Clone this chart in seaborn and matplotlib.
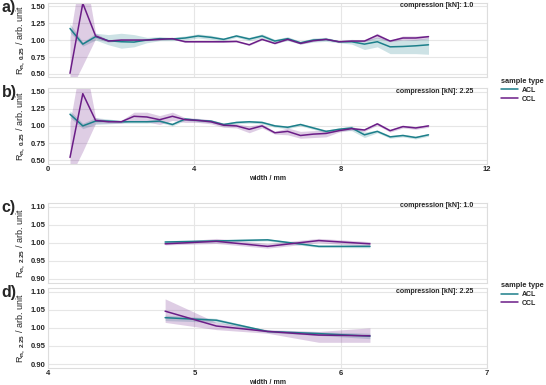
import numpy as np
import pandas as pd
import matplotlib.pyplot as plt
import seaborn as sns

# widths (mm)
width_top = [0.6, 0.95, 1.3, 1.65, 2.0, 2.35, 2.7, 3.05, 3.4, 3.75, 4.1, 4.45, 4.8, 5.15, 5.5,
             5.85, 6.2, 6.55, 6.9, 7.25, 7.6, 7.95, 8.3, 8.65, 9.0, 9.35, 9.7, 10.05, 10.4]
width_bot = [4.8, 5.15, 5.5, 5.85, 6.2]

# a) compression 1.0 (top)
acl_a = [1.17, 0.94, 1.05, 0.99, 0.975, 0.97, 1.0, 1.02, 1.015, 1.03, 1.06, 1.04, 1.01, 1.06, 1.015,
         1.06, 0.985, 1.02, 0.96, 1.0, 1.01, 0.975, 0.975, 0.94, 0.975, 0.90, 0.905, 0.915, 0.93]
acl_a_lo = [1.11, 0.91, 1.0, 0.93, 0.88, 0.9, 0.96, 0.99, 0.99, 1.0, 1.03, 1.01, 0.99, 1.04, 0.99,
            1.03, 0.96, 0.99, 0.94, 0.97, 0.98, 0.96, 0.94, 0.86, 0.9, 0.8, 0.8, 0.8, 0.79]
acl_a_hi = [1.24, 0.97, 1.1, 1.08, 1.1, 1.08, 1.04, 1.05, 1.04, 1.06, 1.09, 1.07, 1.03, 1.08, 1.04,
            1.09, 1.01, 1.05, 0.98, 1.03, 1.04, 0.99, 1.01, 1.0, 1.04, 1.0, 1.0, 1.01, 1.03]
ccl_a = [0.51, 1.54, 1.06, 0.985, 1.0, 1.0, 1.0, 1.01, 1.02, 0.975, 0.975, 0.975, 0.975, 0.98, 0.93,
         1.01, 0.95, 1.01, 0.95, 0.99, 1.01, 0.975, 0.985, 0.985, 1.07, 0.985, 1.03, 1.03, 1.05]
ccl_a_lo = [0.25, 0.63, 1.02, 0.97, 0.99, 0.99, 0.99, 1.0, 1.01, 0.965, 0.965, 0.965, 0.965, 0.97, 0.92,
            1.0, 0.94, 1.0, 0.94, 0.98, 1.0, 0.965, 0.975, 0.975, 1.03, 0.975, 1.0, 1.0, 1.02]
ccl_a_hi = [1.05, 2.2, 1.1, 1.0, 1.01, 1.01, 1.01, 1.02, 1.03, 0.985, 0.985, 0.985, 0.985, 0.99, 0.94,
            1.02, 0.96, 1.02, 0.96, 1.0, 1.02, 0.985, 0.995, 0.995, 1.1, 0.995, 1.06, 1.06, 1.07]

# b) compression 2.25 (top)
acl_b = [1.17, 1.0, 1.07, 1.07, 1.06, 1.06, 1.06, 1.07, 1.02, 1.10, 1.08, 1.07, 1.02, 1.05, 1.06,
         1.05, 1.0, 0.98, 1.02, 0.97, 0.92, 0.95, 0.97, 0.87, 0.92, 0.84, 0.86, 0.83, 0.87]
acl_b_lo = [1.12, 0.96, 1.02, 1.03, 1.04, 1.04, 1.04, 1.05, 1.0, 1.08, 1.06, 1.05, 1.0, 1.03, 1.04,
            1.03, 0.98, 0.96, 1.0, 0.95, 0.9, 0.93, 0.93, 0.83, 0.9, 0.82, 0.84, 0.81, 0.85]
acl_b_hi = [1.22, 1.04, 1.12, 1.1, 1.08, 1.08, 1.08, 1.09, 1.04, 1.12, 1.1, 1.09, 1.04, 1.07, 1.08,
            1.07, 1.02, 1.0, 1.04, 0.99, 0.94, 0.97, 1.0, 0.91, 0.94, 0.86, 0.88, 0.85, 0.89]
ccl_b = [0.54, 1.47, 1.08, 1.06, 1.06, 1.14, 1.13, 1.09, 1.14, 1.09, 1.08, 1.06, 1.01, 1.0, 0.95,
         1.0, 0.90, 0.92, 0.86, 0.88, 0.89, 0.93, 0.96, 0.94, 1.03, 0.93, 0.99, 0.97, 1.0]
ccl_b_lo = [0.25, 0.63, 1.04, 1.04, 1.04, 1.08, 1.06, 1.02, 1.08, 1.05, 1.05, 1.03, 0.98, 0.97, 0.9,
            0.97, 0.88, 0.87, 0.82, 0.83, 0.84, 0.91, 0.94, 0.92, 1.01, 0.91, 0.97, 0.95, 0.98]
ccl_b_hi = [1.05, 2.1, 1.12, 1.08, 1.08, 1.2, 1.2, 1.15, 1.2, 1.12, 1.11, 1.09, 1.04, 1.03, 1.0,
            1.03, 0.92, 0.97, 0.92, 0.93, 0.94, 0.95, 0.98, 0.96, 1.05, 0.95, 1.01, 0.99, 1.02]

# c) compression 1.0 (bottom)
acl_c = [1.002, 1.005, 1.008, 0.99, 0.99]
acl_c_lo = [0.998, 1.002, 1.005, 0.987, 0.986]
acl_c_hi = [1.006, 1.008, 1.011, 0.993, 0.994]
ccl_c = [0.997, 1.004, 0.99, 1.006, 0.997]
ccl_c_lo = [0.994, 0.998, 0.985, 1.0, 0.99]
ccl_c_hi = [1.0, 1.012, 0.998, 1.012, 1.003]

# d) compression 2.25 (bottom)
acl_d = [1.028, 1.021, 0.99, 0.984, 0.977]
acl_d_lo = [1.02, 1.015, 0.987, 0.979, 0.97]
acl_d_hi = [1.035, 1.026, 0.993, 0.989, 0.985]
ccl_d = [1.046, 1.005, 0.99, 0.98, 0.978]
ccl_d_lo = [1.015, 0.995, 0.985, 0.96, 0.96]
ccl_d_hi = [1.08, 1.015, 0.995, 0.99, 1.0]

sample_types = ["ACL", "CCL"]
palette = {"ACL": "#1c7f8a", "CCL": "#6b1d87"}

sns.set_style("whitegrid", {"grid.color": "#e6e6e6", "axes.edgecolor": "#dddddd"})
plt.rcParams["font.family"] = ["Liberation Sans", "DejaVu Sans"]
plt.rcParams["font.weight"] = "bold"
plt.rcParams["mathtext.fontset"] = "custom"
plt.rcParams["mathtext.rm"] = "Liberation Sans"
plt.rcParams["mathtext.it"] = "Liberation Sans"

fig = plt.figure(figsize=(5.46, 3.85), dpi=100)
pos = {
    "a": [0.088, 0.799, 0.804, 0.194],
    "b": [0.088, 0.575, 0.804, 0.196],
    "c": [0.088, 0.266, 0.804, 0.207],
    "d": [0.088, 0.045, 0.804, 0.207],
}
panels = [
    ("a", width_top, acl_a, acl_a_lo, acl_a_hi, ccl_a, ccl_a_lo, ccl_a_hi, "1.0"),
    ("b", width_top, acl_b, acl_b_lo, acl_b_hi, ccl_b, ccl_b_lo, ccl_b_hi, "2.25"),
    ("c", width_bot, acl_c, acl_c_lo, acl_c_hi, ccl_c, ccl_c_lo, ccl_c_hi, "1.0"),
    ("d", width_bot, acl_d, acl_d_lo, acl_d_hi, ccl_d, ccl_d_lo, ccl_d_hi, "2.25"),
]

for name, w, acl, acl_lo, acl_hi, ccl, ccl_lo, ccl_hi, comp in panels:
    ax = fig.add_axes(pos[name])
    df = pd.DataFrame({
        "width": w + w,
        "R": acl + ccl,
        "sample type": ["ACL"] * len(w) + ["CCL"] * len(w),
    })
    sns.lineplot(data=df, x="width", y="R", hue="sample type", hue_order=sample_types,
                 palette=palette, linewidth=1.1, ax=ax, legend=(name in ("a", "c")))
    ax.fill_between(w, acl_lo, acl_hi, color=palette["ACL"], alpha=0.22, linewidth=0)
    ax.fill_between(w, ccl_lo, ccl_hi, color=palette["CCL"], alpha=0.22, linewidth=0)

    top = name in ("a", "b")
    if top:
        ax.set_xlim(0, 12)
        ax.set_xticks([0, 4, 8, 12])
        ax.set_ylim(0.45, 1.55)
        ax.set_yticks([0.5, 0.75, 1.0, 1.25, 1.5])
        ylab = r"R$_{\mathrm{n,\ 0.25}}$ / arb. unit"
    else:
        ax.set_xlim(4, 7)
        ax.set_xticks([4, 5, 6, 7])
        ax.set_ylim(0.89, 1.11)
        ax.set_yticks([0.9, 0.95, 1.0, 1.05, 1.1])
        ylab = r"R$_{\mathrm{n,\ 2.25}}$ / arb. unit"
    ax.yaxis.set_major_formatter(plt.FormatStrFormatter("%.2f"))
    ax.set_ylabel(ylab, fontsize=6.5, fontweight="normal")
    ax.yaxis.set_label_coords(-0.048, 0.5)
    ax.tick_params(labelsize=5.5, pad=2, length=0)
    if name in ("a", "c"):
        ax.set_xticklabels([])
        ax.set_xlabel("")
    else:
        ax.set_xlabel("width / mm", fontsize=5, fontweight="bold", labelpad=1)
    ax.text(0.968, 1.005, f"compression [kN]: {comp}", transform=ax.transAxes,
            ha="right", va="top", fontsize=5, fontweight="bold")
    for s in ax.spines.values():
        s.set_linewidth(0.8)

    if name in ("a", "c"):
        handles, labels = ax.get_legend_handles_labels()
        ax.get_legend().remove()
        ly = 0.797 if name == "a" else 0.267
        leg = fig.legend(handles, labels, title="sample type", loc="upper left",
                         bbox_to_anchor=(0.918, ly), frameon=False, fontsize=5,
                         title_fontsize=5.3, handlelength=2.4, labelspacing=0.25,
                         handletextpad=0.6, borderaxespad=0, borderpad=0)
        leg.get_title().set_fontweight("bold")
        leg._legend_box.align = "left"

    fig.text(0.003, pos[name][1] + pos[name][3] - 0.012, f"{name})",
             fontsize=11.5, fontweight="bold", va="center", ha="left")

fig.savefig("out.png", dpi=100)
